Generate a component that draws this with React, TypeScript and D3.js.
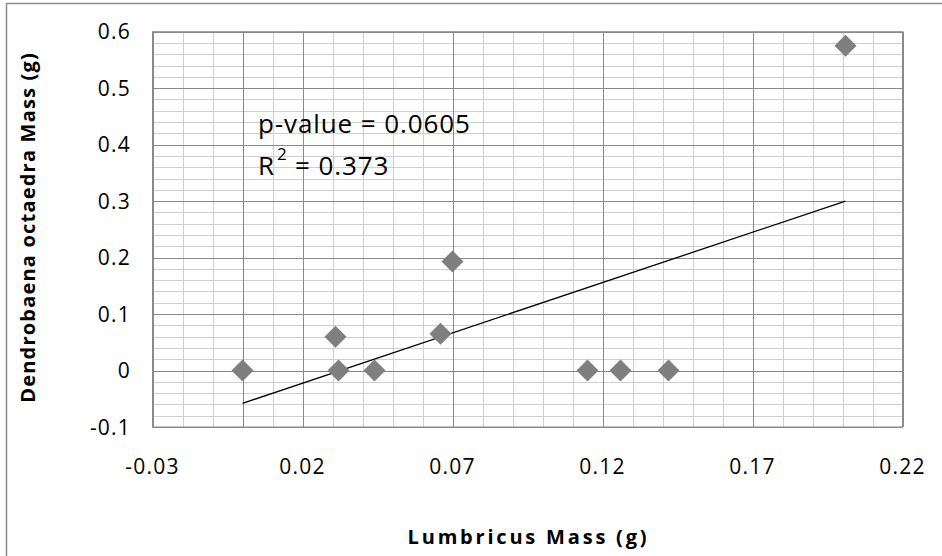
import React, { useEffect, useRef } from 'react'
import * as d3 from 'd3'

// Lumbricus vs Dendrobaena mass (g)
const lumbricus = [0.0, 0.031, 0.032, 0.044, 0.066, 0.07, 0.115, 0.126, 0.142, 0.201]
const dendrobaena = [0.0, 0.06, 0.0, 0.0, 0.065, 0.193, 0.0, 0.0, 0.0, 0.575]
const xTicks = [-0.03, 0.02, 0.07, 0.12, 0.17, 0.22]
const yTicks = [-0.1, 0, 0.1, 0.2, 0.3, 0.4, 0.5, 0.6]
const pValue = '0.0605'
const rSquared = '0.373'

const W = 942
const H = 556
const font = 'Open Sans, Noto Sans, sans-serif'

const App = () => {
    const ref = useRef(null)
    useEffect(() => {
        if (!ref.current) return
        const svg = d3.select(ref.current)
        svg.selectAll('*').remove()

        const x = d3.scaleLinear().domain([-0.03, 0.22]).range([152.5, 902.5])
        const y = d3.scaleLinear().domain([-0.1, 0.6]).range([427, 31.7])

        // outer chart border
        svg.append('rect')
            .attr('x', 6.5).attr('y', 3.5)
            .attr('width', 1000).attr('height', 1000)
            .attr('fill', 'white')
            .attr('stroke', '#8c8c8c').attr('stroke-width', 1.5)

        const g = svg.append('g')

        // minor grid
        const xMinor = d3.range(-0.03, 0.2201, 0.01).map(v => +v.toFixed(3))
        const yMinor = d3.range(-0.1, 0.6001, 0.02).map(v => +v.toFixed(3))
        g.selectAll('.xminor').data(xMinor).join('line')
            .attr('x1', d => Math.round(x(d)) + 0.5).attr('x2', d => Math.round(x(d)) + 0.5)
            .attr('y1', y(0.6)).attr('y2', y(-0.1))
            .attr('stroke', '#cfcfcf').attr('stroke-width', 1)
        g.selectAll('.yminor').data(yMinor).join('line')
            .attr('y1', d => Math.round(y(d)) + 0.5).attr('y2', d => Math.round(y(d)) + 0.5)
            .attr('x1', x(-0.03)).attr('x2', x(0.22))
            .attr('stroke', '#cfcfcf').attr('stroke-width', 1)

        // major grid
        g.selectAll('.xmajor').data(xTicks).join('line')
            .attr('x1', d => Math.round(x(d)) + 0.5).attr('x2', d => Math.round(x(d)) + 0.5)
            .attr('y1', y(0.6)).attr('y2', y(-0.1))
            .attr('stroke', '#8a8a8a').attr('stroke-width', 1)
        g.selectAll('.ymajor').data(yTicks).join('line')
            .attr('y1', d => Math.round(y(d)) + 0.5).attr('y2', d => Math.round(y(d)) + 0.5)
            .attr('x1', x(-0.03)).attr('x2', x(0.22))
            .attr('stroke', '#8a8a8a').attr('stroke-width', 1)

        // axes crossing at zero
        const x0 = Math.round(x(0)) + 0.5
        const y0 = Math.round(y(0)) + 0.5
        g.append('line').attr('x1', x0).attr('x2', x0).attr('y1', y(0.6)).attr('y2', y(-0.1))
            .attr('stroke', '#868686')
        g.append('line').attr('y1', y0).attr('y2', y0).attr('x1', x(-0.03)).attr('x2', x(0.22))
            .attr('stroke', '#868686')
        g.selectAll('.ytick').data(yTicks).join('line')
            .attr('x1', x0 - 7).attr('x2', x0)
            .attr('y1', d => Math.round(y(d)) + 0.5).attr('y2', d => Math.round(y(d)) + 0.5)
            .attr('stroke', '#868686')
        g.selectAll('.xtick').data(xTicks).join('line')
            .attr('y1', y0).attr('y2', y0 + 7)
            .attr('x1', d => Math.round(x(d)) + 0.5).attr('x2', d => Math.round(x(d)) + 0.5)
            .attr('stroke', '#868686')

        // plot frame
        g.append('rect')
            .attr('x', x(-0.03)).attr('y', y(0.6))
            .attr('width', x(0.22) - x(-0.03)).attr('height', y(-0.1) - y(0.6))
            .attr('fill', 'none').attr('stroke', '#8a8a8a')

        // tick labels (plain hyphen for negatives, as in the original)
        svg.selectAll('.ylab').data(yTicks).join('text')
            .attr('x', 131).attr('y', d => y(d))
            .attr('dy', '0.36em')
            .attr('text-anchor', 'end')
            .style('font-family', font).style('font-size', '21px')
            .style('letter-spacing', '1.2px')
            .text(d => String(d))
        svg.selectAll('.xlab').data(xTicks).join('text')
            .attr('x', d => x(d)).attr('y', 474)
            .attr('text-anchor', 'middle')
            .style('font-family', font).style('font-size', '21px')
            .style('letter-spacing', '1.2px')
            .text(d => String(d))

        // axis titles
        svg.append('text')
            .attr('x', (x(-0.03) + x(0.22)) / 2 + 1).attr('y', 544)
            .attr('text-anchor', 'middle')
            .style('font-family', font).style('font-size', '20px').style('font-weight', 'bold')
            .style('letter-spacing', '2.8px')
            .text('Lumbricus Mass (g)')
        svg.append('text')
            .attr('transform', `translate(35,${(y(0.6) + y(-0.1)) / 2 - 2}) rotate(-90)`)
            .attr('text-anchor', 'middle')
            .style('font-family', font).style('font-size', '20px').style('font-weight', 'bold')
            .style('letter-spacing', '1.2px')
            .text('Dendrobaena octaedra Mass (g)')

        // trend line (least squares)
        const mx = d3.mean(lumbricus)
        const my = d3.mean(dendrobaena)
        const sxy = d3.sum(lumbricus, (v, i) => (v - mx) * (dendrobaena[i] - my))
        const sxx = d3.sum(lumbricus, v => (v - mx) ** 2)
        const slope = sxy / sxx
        const icpt = my - slope * mx
        const [xa, xb] = d3.extent(lumbricus)
        svg.append('line')
            .attr('x1', x(xa)).attr('y1', y(icpt + slope * xa))
            .attr('x2', x(xb)).attr('y2', y(icpt + slope * xb))
            .attr('stroke', 'black').attr('stroke-width', 1.3)

        // markers
        const r = 11
        svg.selectAll('.pt').data(lumbricus.map((v, i) => [v, dendrobaena[i]])).join('path')
            .attr('d', d => {
                const cx = x(d[0]), cy = y(d[1])
                return `M${cx},${cy - r}L${cx + r},${cy}L${cx},${cy + r}L${cx - r},${cy}Z`
            })
            .attr('fill', '#7f7f7f')

        // annotation
        svg.append('text')
            .attr('x', 258).attr('y', 133)
            .style('font-family', font).style('font-size', '26px')
            .style('letter-spacing', '0.9px')
            .text(`p-value = ${pValue}`)
        const t = svg.append('text')
            .attr('x', 258).attr('y', 175)
            .style('font-family', font).style('font-size', '26px')
            .style('letter-spacing', '0.9px')
        t.append('tspan').text('R')
        t.append('tspan').attr('x', 277).attr('y', 160).style('font-size', '17px').text('2')
        t.append('tspan').attr('x', 295).attr('y', 175).text(`= ${rSquared}`)
    }, [])

    return (
        <svg ref={ref} width={W} height={H}
            style={{ position: 'absolute', left: 0, top: 0, background: 'white' }} />
    )
}

export default App
